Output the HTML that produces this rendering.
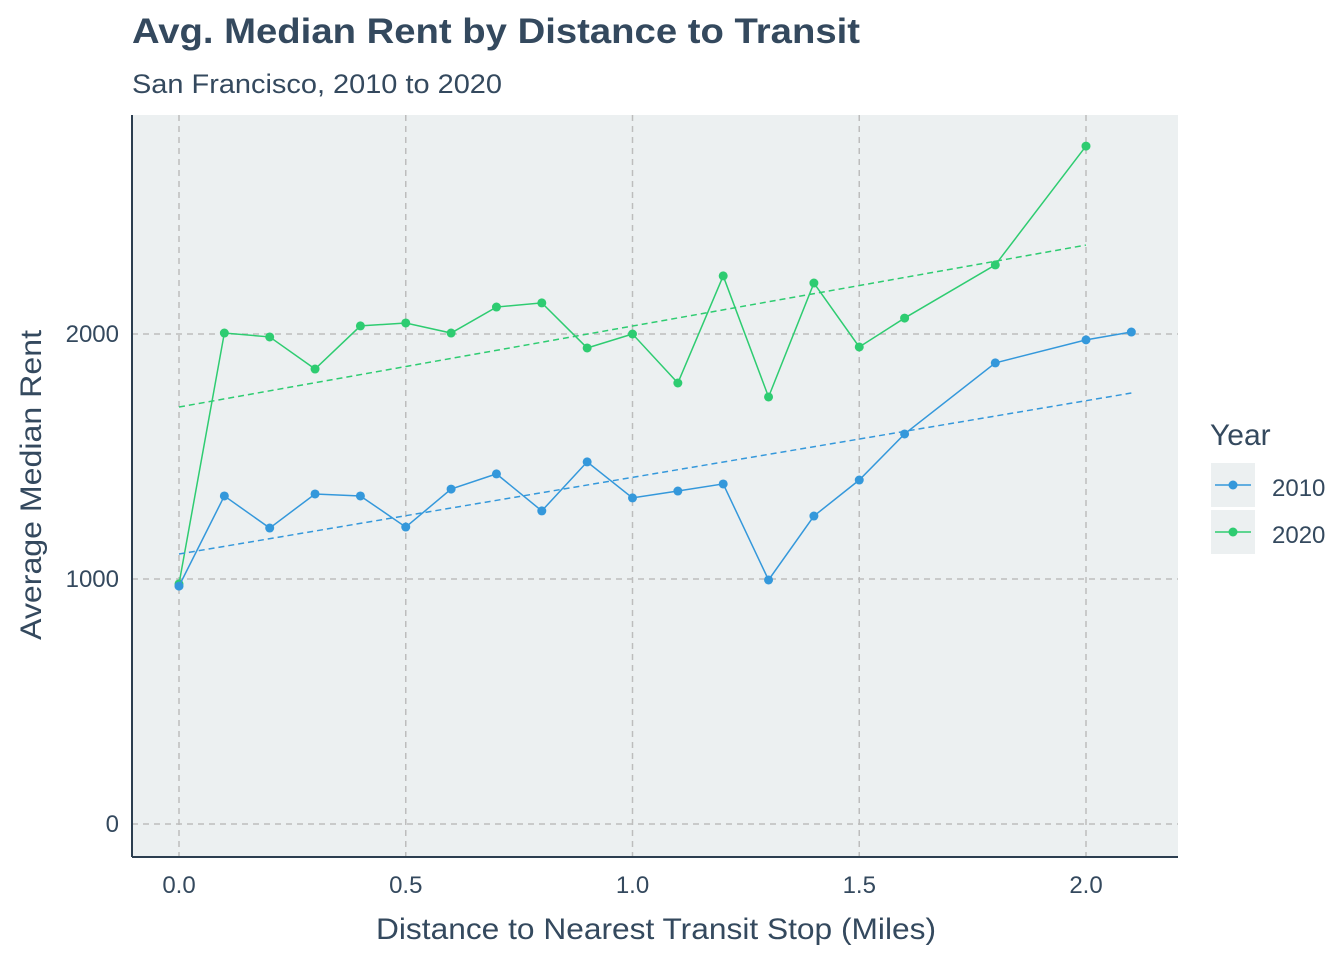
<!DOCTYPE html>
<html><head><meta charset="utf-8"><style>
body{margin:0;background:#fff;font-family:"Liberation Sans",sans-serif;}
</style></head><body>
<svg id="chart" width="1344" height="960" xmlns="http://www.w3.org/2000/svg">
<text x="132" y="43" font-size="35" font-weight="bold" fill="#34495e" textLength="728" lengthAdjust="spacingAndGlyphs">Avg. Median Rent by Distance to Transit</text>
<text x="132" y="93" font-size="27" fill="#34495e" textLength="370" lengthAdjust="spacingAndGlyphs">San Francisco, 2010 to 2020</text>
<rect x="132" y="115" width="1046" height="742" fill="#ecf0f1"/>
<g id="grid"></g><g id="marks"></g>
<line x1="132" y1="115" x2="132" y2="857" stroke="#2c3e50" stroke-width="2"/>
<line x1="132" y1="857" x2="1178" y2="857" stroke="#2c3e50" stroke-width="2"/>
<g id="ticks"></g>
<text x="656" y="939" font-size="30" fill="#34495e" text-anchor="middle" textLength="560" lengthAdjust="spacingAndGlyphs">Distance to Nearest Transit Stop (Miles)</text>
<text transform="translate(41,485) rotate(-90)" font-size="30" fill="#34495e" text-anchor="middle" textLength="310" lengthAdjust="spacingAndGlyphs">Average Median Rent</text>
<text x="1210" y="445" font-size="30" fill="#34495e">Year</text>
<g id="legend"></g>
</svg>
<script>
const xs2010=[0,0.1,0.2,0.3,0.4,0.5,0.6,0.7,0.8,0.9,1.0,1.1,1.2,1.3,1.4,1.5,1.6,1.8,2.0,2.1];
const rent2010=[971,1339,1208,1347,1339,1212,1367,1429,1278,1478,1331,1359,1388,996,1257,1404,1592,1882,1976,2008];
const xs2020=[0,0.1,0.2,0.3,0.4,0.5,0.6,0.7,0.8,0.9,1.0,1.1,1.2,1.3,1.4,1.5,1.6,1.8,2.0];
const rent2020=[980,2004,1988,1857,2033,2045,2004,2110,2127,1943,2000,1800,2237,1743,2208,1947,2065,2282,2767];
const trend2010=[1102,1759];
const trend2020=[1702,2363];
const xTicks=[0,0.5,1.0,1.5,2.0];
const xTickLabels=["0.0","0.5","1.0","1.5","2.0"];
const yTicks=[0,1000,2000];
const years=["2010","2020"];
const colors={"2010":"#3498db","2020":"#2ecc71"};
const NS="http://www.w3.org/2000/svg";
const X=v=>179+v*453.5, Y=v=>824-v*0.245;
function mk(tag,attrs,parent){const e=document.createElementNS(NS,tag);for(const k in attrs)e.setAttribute(k,attrs[k]);document.getElementById(parent).appendChild(e);return e;}
xTicks.forEach((t,i)=>{
 let g=mk('line',{x1:X(t),x2:X(t),y1:115,y2:857,stroke:'#bdbdbd','stroke-width':1.5,'stroke-dasharray':'6,5'},'grid');
 
 
 let l=mk('text',{x:X(t),y:893,'font-size':24,fill:'#34495e','text-anchor':'middle'},'ticks');l.textContent=xTickLabels[i];
 
 
});
yTicks.forEach(t=>{
 let g=mk('line',{x1:132,x2:1178,y1:Y(t),y2:Y(t),stroke:'#bdbdbd','stroke-width':1.5,'stroke-dasharray':'6,5'},'grid');
 
 
 let l=mk('text',{x:119,y:Y(t)+8,'font-size':24,fill:'#34495e','text-anchor':'end'},'ticks');l.textContent=t;
 
 
});
function series(xs,ys,tr,yr){
 const c=colors[yr];
 let t=mk('line',{x1:X(xs[0]),y1:Y(tr[0]),x2:X(xs[xs.length-1]),y2:Y(tr[1]),stroke:c,'stroke-width':1.5,'stroke-dasharray':'6,4'},'marks');
 
 
 let p=mk('polyline',{points:xs.map((x,i)=>X(x)+','+Y(ys[i])).join(' '),fill:'none',stroke:c,'stroke-width':1.5},'marks');
 
 
 xs.forEach((x,i)=>{let d=mk('circle',{cx:X(x),cy:Y(ys[i]),r:4.5,fill:c},'marks');
  
  });
}
series(xs2020,rent2020,trend2020,'2020');
series(xs2010,rent2010,trend2010,'2010');
years.forEach((yr,i)=>{
 const y0=463+i*47;
 let r=mk('rect',{x:1211,y:y0,width:44,height:44,fill:'#ecf0f1'},'legend');
 
 
 mk('line',{x1:1215,x2:1251,y1:y0+22,y2:y0+22,stroke:colors[yr],'stroke-width':1.5},'legend');
 mk('circle',{cx:1233,cy:y0+22,r:4.5,fill:colors[yr]},'legend');
 let t=mk('text',{x:1272,y:y0+33,'font-size':24,fill:'#34495e'},'legend');t.textContent=yr;
 
 
});
</script>
</body></html>
